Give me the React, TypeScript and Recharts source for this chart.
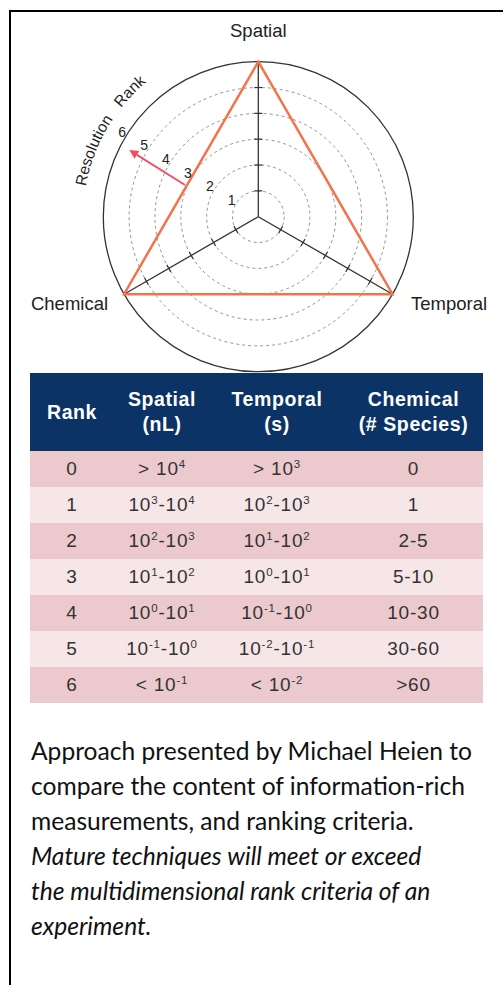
import React from 'react';
import {
  RadarChart, Radar, PolarGrid, PolarAngleAxis, PolarRadiusAxis, Customized
} from 'recharts';

// radar axes and the rank reached on each
const axes = ['Spatial', 'Temporal', 'Chemical'];
const axisAngles = [90, -30, 210];
const rankValues = [6, 6, 6];
const rankTicks = [1, 2, 3, 4, 5, 6];

// ranking table
const tableHeader = [['Rank'], ['Spatial', '(nL)'], ['Temporal', '(s)'], ['Chemical', '(# Species)']];
const ranks = ['0', '1', '2', '3', '4', '5', '6'];
const spatialRange = ['> 10^4', '10^3-10^4', '10^2-10^3', '10^1-10^2', '10^0-10^1', '10^-1-10^0', '< 10^-1'];
const temporalRange = ['> 10^3', '10^2-10^3', '10^1-10^2', '10^0-10^1', '10^-1-10^0', '10^-2-10^-1', '< 10^-2'];
const chemicalRange = ['0', '1', '2-5', '5-10', '10-30', '30-60', '>60'];

const captionLines = [
  'Approach presented by Michael Heien to',
  'compare the content of information-rich',
  'measurements, and ranking criteria.',
];
const captionItalicLines = [
  'Mature techniques will meet or exceed',
  'the multidimensional rank criteria of an',
  'experiment.',
];

const data = axes.map((axis, i) => ({ axis, value: rankValues[i] }));

const CX = 258.3;
const CY = 216.7;
const R = 155;
const MAX_RANK = 6;
const UNIT = R / MAX_RANK;
const ARIAL = '"Liberation Sans", Arial, sans-serif';

const polar = (r: number, deg: number) => ({
  x: CX + r * Math.cos((deg * Math.PI) / 180),
  y: CY - r * Math.sin((deg * Math.PI) / 180),
});

// angle axis labels offset from each vertex
const labelOffset: Record<string, { dx: number; dy: number; anchor: 'middle' | 'start' | 'end' }> = {
  Spatial: { dx: 0, dy: -25, anchor: 'middle' },
  Temporal: { dx: 18.5, dy: 15.5, anchor: 'start' },
  Chemical: { dx: -16, dy: 15.5, anchor: 'end' },
};

const AngleTick = (props: any) => {
  const { payload } = props;
  const p = polar(R, payload.coordinate);
  const o = labelOffset[payload.value] || { dx: 0, dy: 0, anchor: 'middle' };
  return (
    <text x={p.x + o.dx} y={p.y + o.dy} textAnchor={o.anchor} fontSize={18.5} fill="#222" fontFamily={ARIAL}>
      {payload.value}
    </text>
  );
};

const LABEL_ANGLE = 148;
const RankLabel = (props: any) => {
  const { x, y, payload } = props;
  if (!payload || payload.value === 0) return <g />;
  const a = (LABEL_ANGLE * Math.PI) / 180;
  return (
    <text x={x + 5.5 * Math.cos(a)} y={y - 5.5 * Math.sin(a)} textAnchor="middle" dominantBaseline="central"
      fontSize={14} fill="#222" fontFamily={ARIAL}>
      {payload.value}
    </text>
  );
};

// annotation arrow, in rank units and degrees
const ARROW_FROM = { rank: 3.09, angle: 156.6 };
const ARROW_TO = { rank: 5.62, angle: 152.7 };

const Annotations = () => {
  const s = polar(ARROW_FROM.rank * UNIT, ARROW_FROM.angle);
  const t = polar(ARROW_TO.rank * UNIT, ARROW_TO.angle);
  const len = Math.hypot(t.x - s.x, t.y - s.y);
  const ux = (t.x - s.x) / len;
  const uy = (t.y - s.y) / len;
  const hb = { x: t.x - ux * 9, y: t.y - uy * 9 };
  const head = `${t.x},${t.y} ${hb.x - uy * 4.5},${hb.y + ux * 4.5} ${hb.x + uy * 4.5},${hb.y - ux * 4.5}`;
  const ar = 175;
  const a0 = polar(ar, 194);
  const a1 = polar(ar, 102);
  return (
    <g>
      {axisAngles.map(angle =>
        rankTicks.slice(0, 5).map(k => {
          const p = polar(k * UNIT, angle);
          const a = (angle * Math.PI) / 180;
          const px = Math.sin(a) * 4;
          const py = Math.cos(a) * 4;
          return <line key={`${angle}-${k}`} x1={p.x - px} y1={p.y - py} x2={p.x + px} y2={p.y + py}
            stroke="#333" strokeWidth={1.2} />;
        })
      )}
      <line x1={s.x} y1={s.y} x2={hb.x} y2={hb.y} stroke="#ee4d66" strokeWidth={1.8} />
      <polygon points={head} fill="#ee4d66" />
      <path id="rrArc" d={`M ${a0.x} ${a0.y} A ${ar} ${ar} 0 0 1 ${a1.x} ${a1.y}`} fill="none" stroke="none" />
      <text fontSize={15.5} fill="#222" fontFamily={ARIAL}>
        <textPath href="#rrArc" startOffset={73}>Resolution</textPath>
      </text>
      <text fontSize={15.5} fill="#222" fontFamily={ARIAL}>
        <textPath href="#rrArc" startOffset={160}>Rank</textPath>
      </text>
    </g>
  );
};

const renderSup = (s: string) => {
  const parts = s.split(/10\^(-?\d)/);
  const out: React.ReactNode[] = [];
  parts.forEach((p, i) => {
    if (i % 2 === 0) {
      if (p) out.push(<span key={i}>{p}</span>);
    } else {
      out.push(
        <span key={i}>
          10<span style={{ fontSize: 11.5, position: 'relative', top: -7, lineHeight: 0 }}>{p.replace('-', '\u2011')}</span>
        </span>
      );
    }
  });
  return out;
};

const colWidths = [84, 96, 134, 139];

const App: React.FC = () => {
  return (
    <div style={{ position: 'absolute', left: 0, top: 0, width: 503, height: 985, background: '#fff', overflow: 'hidden' }}>
      <div style={{
        position: 'absolute', left: 9, top: 10, width: 494, height: 975,
        borderTop: '2px solid #000', borderLeft: '2px solid #000', boxSizing: 'border-box'
      }} />
      <div style={{ position: 'absolute', left: 0, top: 0 }}>
        <RadarChart width={503} height={373} data={data} cx={CX} cy={CY} outerRadius={R}
          startAngle={90} endAngle={-270} margin={{ top: 0, right: 0, bottom: 0, left: 0 }}>
          <PolarGrid gridType="circle" radialLines={false} stroke="#929292" strokeDasharray="3 3"
            polarRadius={rankTicks.slice(0, 5).map(k => k * UNIT)} />
          <PolarGrid gridType="circle" radialLines stroke="#333" strokeWidth={1.3} polarRadius={[R]} />
          <PolarAngleAxis dataKey="axis" axisLine={false} tickLine={false} tick={AngleTick} />
          <PolarRadiusAxis angle={LABEL_ANGLE} domain={[0, MAX_RANK]} type="number" tickCount={7}
            axisLine={false} tick={RankLabel} />
          <Radar dataKey="value" stroke="#f4734a" strokeWidth={2.5} fill="none" fillOpacity={0}
            dot={false} isAnimationActive={false} />
          <Customized component={<Annotations />} />
        </RadarChart>
      </div>

      <table style={{
        position: 'absolute', left: 30, top: 373, width: 453, borderCollapse: 'collapse',
        fontFamily: ARIAL, tableLayout: 'fixed'
      }}>
        <colgroup>
          {colWidths.map((w, i) => <col key={i} style={{ width: w }} />)}
        </colgroup>
        <thead>
          <tr style={{ background: '#0b3366', height: 78 }}>
            {tableHeader.map((h, i) => (
              <th key={i} style={{
                color: '#fff', fontSize: 19.5, fontWeight: 'bold', lineHeight: '25px', padding: 0,
                textAlign: 'center', letterSpacing: 0.6, whiteSpace: 'nowrap'
              }}>
                {h.map((l, j) => <div key={j}>{l}</div>)}
              </th>
            ))}
          </tr>
        </thead>
        <tbody>
          {ranks.map((r, i) => (
            <tr key={r} style={{ background: i % 2 === 0 ? '#ecc9cd' : '#f6e6e8', height: 36 }}>
              {[r, spatialRange[i], temporalRange[i], chemicalRange[i]].map((c, j) => (
                <td key={j} style={{
                  fontSize: 19, color: '#333', textAlign: 'center', padding: 0, lineHeight: '36px',
                  letterSpacing: 0.8, whiteSpace: 'nowrap'
                }}>
                  {renderSup(c)}
                </td>
              ))}
            </tr>
          ))}
        </tbody>
      </table>

      <div style={{ position: 'absolute', left: 31, top: 733, fontFamily: 'Lato, sans-serif', fontSize: 24.6, color: '#111' }}>
        {captionLines.map((l, i) => (
          <div key={i} style={{ height: 35, lineHeight: '35px', whiteSpace: 'nowrap' }}>{l}</div>
        ))}
        {captionItalicLines.map((l, i) => (
          <div key={'i' + i} style={{ height: 35, lineHeight: '35px', whiteSpace: 'nowrap', fontStyle: 'italic' }}>{l}</div>
        ))}
      </div>
    </div>
  );
};

export default App;
